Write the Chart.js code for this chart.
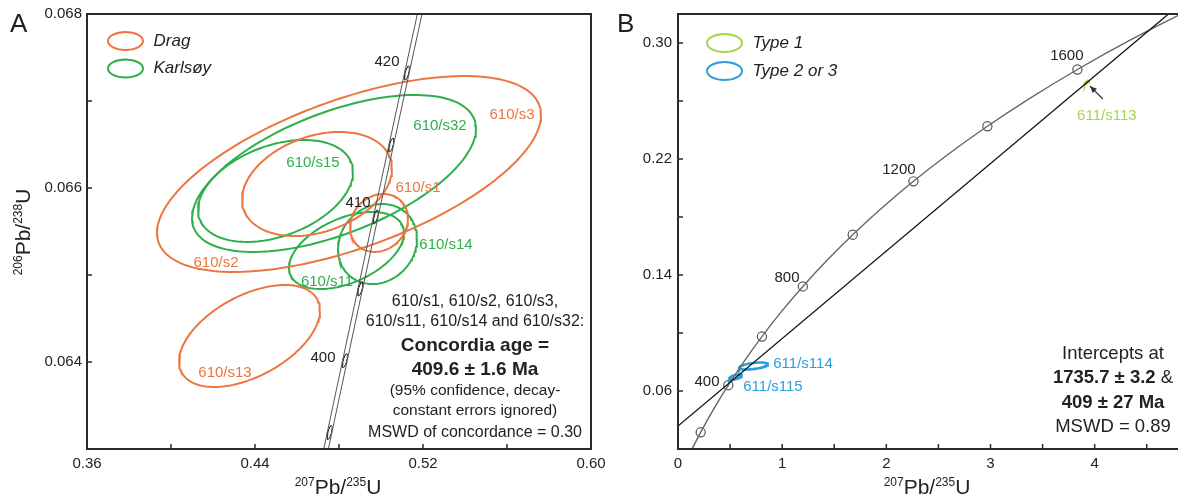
<!DOCTYPE html>
<html><head><meta charset="utf-8">
<script src="https://cdn.jsdelivr.net/npm/chart.js@4/dist/chart.umd.min.js"></script>
<style>
html,body{margin:0;padding:0;background:#fff;width:1178px;height:498px;overflow:hidden}
#wa{position:absolute;left:0;top:0;width:612px;height:498px}
#wb{position:absolute;left:600px;top:0;width:578px;height:498px}
</style></head><body>
<div id="wa"><canvas id="ca" width="612" height="498"></canvas></div>
<div id="wb"><canvas id="cb" width="578" height="498"></canvas></div>
<script>
// ================= DATA =================
// Panel A: error ellipses (x = 207Pb/235U, y = 206Pb/238U, half-extents, correlation)
const aNames = ['610/s3','610/s2','610/s1','610/s13','610/s32','610/s15','610/s11','610/s14'];
const aGroup = ['Drag','Drag','Drag','Drag','Karlsøy','Karlsøy','Karlsøy','Karlsøy'];
const aX   = [0.48476, 0.46952, 0.49905, 0.43738, 0.47762, 0.44976, 0.48357, 0.49833];
const aY   = [0.066161,0.066046,0.065598,0.064299,0.066167,0.065966,0.065282,0.065356];
const aSX  = [0.09143, 0.03571, 0.01381, 0.03357, 0.06762, 0.03690, 0.02738, 0.01881];
const aSY  = [0.001126,0.000598,0.000333,0.000586,0.000902,0.000586,0.000443,0.000460];
const aRho = [0.60, 0.30, 0.15, 0.50, 0.57, 0.37, 0.45, 0.13];

// Panel A: concordia (ages in Ma) and its decay-constant band
const aConcAges = [390, 395, 400, 405, 410, 415, 420, 425];
const aConcX    = [0.468280,0.475528,0.482812,0.490132,0.497488,0.504880,0.512309,0.519774];
const aConcY    = [0.062366,0.063191,0.064016,0.064841,0.065667,0.066494,0.067322,0.068150];
const aBandLoX  = [0.467180,0.474428,0.481712,0.489032,0.496388,0.503780,0.511209,0.518674];
const aBandHiX  = [0.469380,0.476628,0.483912,0.491232,0.498588,0.505980,0.513409,0.520874];
const aMarkAges = [395, 400, 405, 410, 415, 420];

// Panel A ticks
const aXTickValues = [0.36,0.40,0.44,0.48,0.52,0.56,0.60];
const aXTickLabels = ['0.36','','0.44','','0.52','','0.60'];
const aYTickValues = [0.063,0.064,0.065,0.066,0.067,0.068];
const aYTickLabels = ['','0.064','','0.066','','0.068'];

// Panel B: ellipses
const bNames = ['611/s113','611/s114','611/s115'];
const bGroup = ['Type 1','Type 2 or 3','Type 2 or 3'];
const bX   = [3.925, 0.7246, 0.552];
const bY   = [0.2731, 0.07724, 0.06966];
const bSX  = [0.02, 0.139, 0.062];
const bSY  = [0.0010, 0.0024, 0.0017];
const bRho = [0.9, 0.5, 0.6];

// Panel B: concordia
const bConcAges = [100,200,300,400,500,600,700,800,900,1000,1100,1200,1300,1400,1500,1600,1700,1800];
const bConcX = [0.10350,0.21771,0.34374,0.48281,0.63628,0.80563,0.99251,1.19873,1.42630,1.67741,1.95451,2.26030,2.59774,2.97009,3.38099,3.83441,4.33476,4.88690];
const bConcY = [0.015633,0.031511,0.047637,0.064016,0.080650,0.097544,0.114703,0.132129,0.149829,0.167800,0.186054,0.204603,0.223433,0.242561,0.261990,0.281717,0.301754,0.322104];
const bMarkAges = [200,400,600,800,1000,1200,1400,1600];
// Panel B: discordia through intercepts 409 Ma and 1735.7 Ma
const bDiscX = [0, 4.8];
const bDiscY = [0.0358, 0.3255];

// Panel B ticks
const bXTickValues = [0,0.5,1,1.5,2,2.5,3,3.5,4,4.5];
const bXTickLabels = ['0','','1','','2','','3','','4',''];
const bYTickValues = [0.06,0.10,0.14,0.18,0.22,0.26,0.30];
const bYTickLabels = ['0.06','','0.14','','0.22','','0.30'];

// ================= STYLE / CONFIG =================
const FONT = '"Liberation Sans", Arial, Helvetica, sans-serif';
const TXT = '#222';
const groupColor = {'Drag':'#EC7540','Karlsøy':'#2DB04C','Type 1':'#A8D64A','Type 2 or 3':'#2C9FDB'};
const MARK = {sx:0.0012, sy:0.00008, rho:0.7};

const aLabels = [
  {text:'610/s3',  x:0.56238, y:0.066839, color:groupColor['Drag']},
  {text:'610/s32', x:0.52810, y:0.066713, color:groupColor['Karlsøy']},
  {text:'610/s15', x:0.46762, y:0.066287, color:groupColor['Karlsøy']},
  {text:'610/s1',  x:0.51762, y:0.066000, color:groupColor['Drag']},
  {text:'610/s14', x:0.53095, y:0.065345, color:groupColor['Karlsøy']},
  {text:'610/s11', x:0.47429, y:0.064920, color:groupColor['Karlsøy']},
  {text:'610/s2',  x:0.42143, y:0.065138, color:groupColor['Drag']},
  {text:'610/s13', x:0.42571, y:0.063874, color:groupColor['Drag']},
  {text:'410', x:0.48905, y:0.065828, color:TXT},
  {text:'420', x:0.50286, y:0.067448, color:TXT},
  {text:'400', x:0.47238, y:0.064046, color:TXT}
];
const bLabels = [
  {text:'611/s114', x:1.200, y:0.07862, color:groupColor['Type 2 or 3']},
  {text:'611/s115', x:0.9117, y:0.06276, color:groupColor['Type 2 or 3']},
  {text:'611/s113', x:4.117, y:0.24966, color:groupColor['Type 1']},
  {text:'400',  x:0.278, y:0.06621, color:TXT},
  {text:'800',  x:1.046, y:0.13793, color:TXT},
  {text:'1200', x:2.121, y:0.21241, color:TXT},
  {text:'1600', x:3.733, y:0.29103, color:TXT}
];

function ellipsePts(cx, cy, sx, sy, rho, n){
  n = n || 160;
  const pts = [], r2 = Math.sqrt(1 - rho*rho);
  for (let i = 0; i <= n; i++){
    const t = 2*Math.PI*i/n;
    pts.push({x: cx + sx*Math.cos(t), y: cy + sy*(rho*Math.cos(t) + r2*Math.sin(t))});
  }
  return pts;
}
function lineDs(pts, color, width, extra){
  return Object.assign({data: pts, showLine: true, borderColor: color, borderWidth: width,
    pointRadius: 0, pointHoverRadius: 0, fill: false, tension: 0}, extra || {});
}
function tickCb(vals, labs){
  return function(value){
    const i = vals.findIndex(v => Math.abs(v - value) < 1e-9);
    return i >= 0 ? labs[i] : '';
  };
}
function axis(min, max, vals, labs, fitFn, pad){
  return {
    type: 'linear', min: min, max: max,
    afterBuildTicks: s => { s.ticks = vals.map(v => ({value: v})); },
    afterFit: s => { fitFn(s); s.paddingLeft = 0; s.paddingRight = 0; s.paddingTop = 0; s.paddingBottom = 0; },
    grid: {display: false, drawTicks: false},
    border: {display: false},
    ticks: {padding: pad, autoSkip: false, maxRotation: 0, color: TXT,
      font: {family: FONT, size: 15}, callback: tickCb(vals, labs)}
  };
}
function framePlugin(sides){
  return {id: 'frame', afterDatasetsDraw(chart){
    const ctx = chart.ctx, a = chart.chartArea;
    ctx.save();
    ctx.strokeStyle = '#2a2a2a'; ctx.lineWidth = 2; ctx.lineCap = 'square';
    ctx.beginPath();
    if (sides.includes('l')) { ctx.moveTo(a.left, a.top); ctx.lineTo(a.left, a.bottom); }
    if (sides.includes('b')) { ctx.moveTo(a.left, a.bottom); ctx.lineTo(a.right, a.bottom); }
    if (sides.includes('t')) { ctx.moveTo(a.left, a.top); ctx.lineTo(a.right, a.top); }
    if (sides.includes('r')) { ctx.moveTo(a.right, a.top); ctx.lineTo(a.right, a.bottom); }
    ctx.stroke();
    ctx.lineWidth = 1.5; ctx.lineCap = 'butt';
    ctx.beginPath();
    const xs = chart.scales.x, ys = chart.scales.y;
    xs.ticks.forEach(t => { const p = xs.getPixelForValue(t.value); if (p > a.left + 2 && p < a.right - 2){ ctx.moveTo(p, a.bottom); ctx.lineTo(p, a.bottom - 5); } });
    ys.ticks.forEach(t => { const p = ys.getPixelForValue(t.value); if (p > a.top + 2 && p < a.bottom - 2){ ctx.moveTo(a.left, p); ctx.lineTo(a.left + 5, p); } });
    ctx.stroke();
    ctx.restore();
  }};
}
function drawRuns(ctx, runs, cx, y, align){
  let total = 0;
  runs.forEach(r => { ctx.font = r.font; r.w = ctx.measureText(r.t).width; total += r.w; });
  let x = align === 'left' ? cx : cx - total/2;
  runs.forEach(r => { ctx.font = r.font; ctx.fillStyle = r.color || TXT; ctx.textAlign = 'left';
    ctx.fillText(r.t, x, y + (r.dy || 0)); x += r.w; });
}
function supTitle(a, b){
  const big = '21px ' + FONT, small = '12px ' + FONT;
  return [{t: a[0], font: small, dy: -8}, {t: a[1], font: big}, {t: b[0], font: small, dy: -8}, {t: b[1], font: big}];
}
function textPlugin(cfg){
  return {id: 'texts', afterDraw(chart){
    const ctx = chart.ctx, xs = chart.scales.x, ys = chart.scales.y, a = chart.chartArea;
    ctx.save();
    ctx.textBaseline = 'middle';
    cfg.labels.forEach(l => {
      ctx.font = '15px ' + FONT; ctx.fillStyle = l.color; ctx.textAlign = 'center';
      ctx.fillText(l.text, xs.getPixelForValue(l.x), ys.getPixelForValue(l.y));
    });
    cfg.legend.forEach((g, i) => {
      const cy = cfg.legendY[i];
      ctx.strokeStyle = groupColor[g]; ctx.lineWidth = 2;
      ctx.beginPath(); ctx.ellipse(cfg.legendX, cy, 17.5, 9, 0, 0, 2*Math.PI); ctx.stroke();
      ctx.font = 'italic 17px ' + FONT; ctx.fillStyle = TXT; ctx.textAlign = 'left';
      ctx.fillText(g, cfg.legendX + 28, cy);
    });
    ctx.textBaseline = 'alphabetic';
    ctx.font = '26px ' + FONT; ctx.fillStyle = TXT; ctx.textAlign = 'left';
    ctx.fillText(cfg.letter, cfg.letterX, 32);
    drawRuns(ctx, supTitle(['207','Pb/'], ['235','U']), (a.left + a.right)/2 - 1, 494);
    if (cfg.yTitle){
      ctx.save(); ctx.translate(30, 232); ctx.rotate(-Math.PI/2);
      drawRuns(ctx, supTitle(['206','Pb/'], ['238','U']), 0, 0);
      ctx.restore();
    }
    ctx.textBaseline = 'middle';
    cfg.block.forEach(line => drawRuns(ctx, line.runs, cfg.blockX, line.y));
    if (cfg.arrow){
      const x1 = xs.getPixelForValue(cfg.arrow.x1), y1 = ys.getPixelForValue(cfg.arrow.y1);
      const x2 = xs.getPixelForValue(cfg.arrow.x2), y2 = ys.getPixelForValue(cfg.arrow.y2);
      ctx.strokeStyle = '#333'; ctx.fillStyle = '#333'; ctx.lineWidth = 1.1;
      ctx.beginPath(); ctx.moveTo(x1, y1); ctx.lineTo(x2, y2); ctx.stroke();
      const ang = Math.atan2(y2 - y1, x2 - x1), L = 7, W = 3;
      ctx.beginPath(); ctx.moveTo(x2, y2);
      ctx.lineTo(x2 - L*Math.cos(ang) + W*Math.sin(ang), y2 - L*Math.sin(ang) - W*Math.cos(ang));
      ctx.lineTo(x2 - L*Math.cos(ang) - W*Math.sin(ang), y2 - L*Math.sin(ang) + W*Math.cos(ang));
      ctx.closePath(); ctx.fill();
    }
    ctx.restore();
  }};
}
const R = (s) => s + 'px ' + FONT, B = (s) => 'bold ' + s + 'px ' + FONT;

// ================= PANEL A =================
const aDatasets = [];
aDatasets.push(lineDs(aConcY.map((y, i) => ({x: aBandLoX[i], y: y})), '#555', 1));
aDatasets.push(lineDs(aConcY.map((y, i) => ({x: aBandHiX[i], y: y})), '#555', 1));
aMarkAges.forEach(age => {
  const i = aConcAges.indexOf(age);
  aDatasets.push(lineDs(ellipsePts(aConcX[i], aConcY[i], MARK.sx, MARK.sy, MARK.rho, 60), '#333', 1));
});
aNames.forEach((n, i) => {
  aDatasets.push(lineDs(ellipsePts(aX[i], aY[i], aSX[i], aSY[i], aRho[i]), groupColor[aGroup[i]], 2, {label: n}));
});

new Chart(document.getElementById('ca'), {
  type: 'scatter',
  data: {datasets: aDatasets},
  options: {
    responsive: false, animation: false, devicePixelRatio: 1, events: [],
    layout: {autoPadding: false, padding: {left: 0, right: 21, top: 14, bottom: 0}},
    plugins: {legend: {display: false}, tooltip: {enabled: false}},
    scales: {
      x: axis(0.36, 0.60, aXTickValues, aXTickLabels, s => { s.height = 49; }, 6),
      y: axis(0.063, 0.068, aYTickValues, aYTickLabels, s => { s.width = 87; }, 5)
    }
  },
  plugins: [framePlugin('lbtr'), textPlugin({
    labels: aLabels, legend: ['Drag','Karlsøy'], legendX: 125.5, legendY: [41, 68.5],
    letter: 'A', letterX: 10, yTitle: true, blockX: 475,
    block: [
      {y: 302, runs: [{t: '610/s1, 610/s2, 610/s3,', font: R(16)}]},
      {y: 322, runs: [{t: '610/s11, 610/s14 and 610/s32:', font: R(16)}]},
      {y: 346, runs: [{t: 'Concordia age =', font: B(19)}]},
      {y: 370, runs: [{t: '409.6 ± 1.6 Ma', font: B(19)}]},
      {y: 391, runs: [{t: '(95% confidence, decay-', font: R(15.5)}]},
      {y: 411, runs: [{t: 'constant errors ignored)', font: R(15.5)}]},
      {y: 433, runs: [{t: 'MSWD of concordance = 0.30', font: R(16)}]}
    ]
  })]
});

// ================= PANEL B =================
const bDatasets = [];
bDatasets.push(lineDs(bDiscX.map((x, i) => ({x: x, y: bDiscY[i]})), '#111', 1.3));
bDatasets.push(lineDs(bConcX.map((x, i) => ({x: x, y: bConcY[i]})), '#666', 1.4, {cubicInterpolationMode: 'monotone'}));
bNames.forEach((n, i) => {
  bDatasets.push(lineDs(ellipsePts(bX[i], bY[i], bSX[i], bSY[i], bRho[i]), groupColor[bGroup[i]], 2.5, {label: n}));
});
bDatasets.push({
  data: bMarkAges.map(age => { const i = bConcAges.indexOf(age); return {x: bConcX[i], y: bConcY[i]}; }),
  showLine: false, pointRadius: 4.6, pointBackgroundColor: '#fff', pointBorderColor: '#555', pointBorderWidth: 1.2
});

new Chart(document.getElementById('cb'), {
  type: 'scatter',
  data: {datasets: bDatasets},
  options: {
    responsive: false, animation: false, devicePixelRatio: 1, events: [],
    layout: {autoPadding: false, padding: {left: 0, right: 0, top: 14, bottom: 0}},
    plugins: {legend: {display: false}, tooltip: {enabled: false}},
    scales: {
      x: axis(0, 4.8, bXTickValues, bXTickLabels, s => { s.height = 49; }, 6),
      y: axis(0.02, 0.32, bYTickValues, bYTickLabels, s => { s.width = 78; }, 6)
    }
  },
  plugins: [framePlugin('lbt'), textPlugin({
    labels: bLabels, legend: ['Type 1','Type 2 or 3'], legendX: 124.5, legendY: [43, 71],
    letter: 'B', letterX: 17, yTitle: false, blockX: 513,
    arrow: {x1: 4.079, y1: 0.26138, x2: 3.954, y2: 0.27034},
    block: [
      {y: 354, runs: [{t: 'Intercepts at', font: R(18.5)}]},
      {y: 378, runs: [{t: '1735.7 ± 3.2 ', font: B(18.5)}, {t: '&', font: R(18.5)}]},
      {y: 403, runs: [{t: '409 ± 27 Ma', font: B(18.5)}]},
      {y: 427, runs: [{t: 'MSWD = 0.89', font: R(18.5)}]}
    ]
  })]
});
</script>
</body></html>
